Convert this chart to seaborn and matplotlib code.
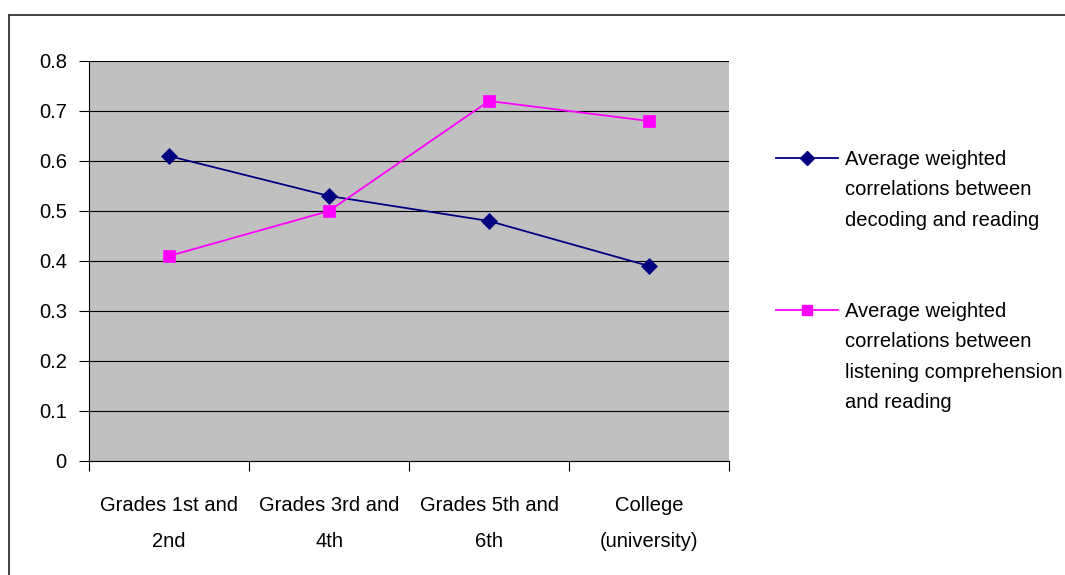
import matplotlib
matplotlib.use("Agg")
import matplotlib.pyplot as plt
import seaborn as sns
import pandas as pd
from matplotlib.lines import Line2D
from matplotlib.ticker import FixedLocator, FixedFormatter, NullFormatter

categories = ["Grades 1st and\n2nd", "Grades 3rd and\n4th", "Grades 5th and\n6th", "College\n(university)"]
decoding = [0.61, 0.53, 0.48, 0.39]
listening = [0.41, 0.50, 0.72, 0.68]
series_names = [
    "Average weighted\ncorrelations between\ndecoding and reading",
    "Average weighted\ncorrelations between\nlistening comprehension\nand reading",
]
y_ticks = [0, 0.1, 0.2, 0.3, 0.4, 0.5, 0.6, 0.7, 0.8]
y_tick_labels = ["0", "0.1", "0.2", "0.3", "0.4", "0.5", "0.6", "0.7", "0.8"]

colors = {series_names[0]: "#000080", series_names[1]: "#FF00FF"}
markers = {series_names[0]: "D", series_names[1]: "s"}

df = pd.DataFrame({
    "stage": categories * 2,
    "value": decoding + listening,
    "series": [series_names[0]] * len(decoding) + [series_names[1]] * len(listening),
})

plt.rcParams["font.family"] = ["Liberation Sans", "DejaVu Sans"]
FS = 14.5

fig = plt.figure(figsize=(10.65, 5.75), dpi=100)
W, H = 1065, 575
ax = fig.add_axes([89 / W, 1 - 461 / H, 640 / W, 400 / H])
ax.set_facecolor("#C0C0C0")

sns.lineplot(data=df, x="stage", y="value", hue="series", style="series",
             markers=markers, dashes=False, palette=colors, sort=False,
             linewidth=1.3, markersize=8, legend=False, ax=ax)
for ln in ax.lines:
    ln.set_markeredgecolor(ln.get_color())
    ln.set_markerfacecolor(ln.get_color())
    ln.set_markeredgewidth(0.5)
    ln.set_zorder(3)

ax.set_xlim(-0.5, len(categories) - 0.5)
ax.set_ylim(0, 0.8)
ax.xaxis.set_major_locator(FixedLocator([i - 0.5 for i in range(len(categories) + 1)]))
ax.xaxis.set_major_formatter(NullFormatter())
ax.xaxis.set_minor_locator(FixedLocator(list(range(len(categories)))))
ax.xaxis.set_minor_formatter(FixedFormatter(categories))
ax.tick_params(axis="x", which="major", length=7, width=0.8, color="black", direction="out")
ax.tick_params(axis="x", which="minor", length=0, pad=25, labelsize=FS)
for t in ax.xaxis.get_minor_ticks():
    t.label1.set_linespacing(2.12)
    t.label1.set_verticalalignment("top")

ax.set_yticks(y_ticks)
ax.set_yticklabels(y_tick_labels)
ax.tick_params(axis="y", length=7, width=0.8, color="black", direction="out", pad=9, labelsize=FS)
ax.yaxis.grid(True, color="black", linewidth=0.8)
ax.set_axisbelow(True)
ax.set_xlabel("")
ax.set_ylabel("")
for s in ["top", "right"]:
    ax.spines[s].set_visible(False)
for s in ["left", "bottom"]:
    ax.spines[s].set_color("black")
    ax.spines[s].set_linewidth(0.8)

# outer chart frame
fig.add_artist(Line2D([9 / W, 1.01], [1 - 15 / H, 1 - 15 / H], transform=fig.transFigure, color="#333333", linewidth=1.3))
fig.add_artist(Line2D([9 / W, 9 / W], [1 - 15 / H, -0.01], transform=fig.transFigure, color="#333333", linewidth=1.3))

# legend
legend_y = [158, 310]
for name, yy in zip(series_names, legend_y):
    fig.add_artist(Line2D([776 / W, 838 / W], [1 - yy / H] * 2, transform=fig.transFigure,
                          color=colors[name], linewidth=1.3))
    fig.add_artist(Line2D([807 / W], [1 - yy / H], transform=fig.transFigure, color=colors[name],
                          marker=markers[name], markersize=7.5 if markers[name] == "s" else 7,
                          markeredgecolor=colors[name], linestyle="none"))
    fig.text(845 / W, 1 - (yy - 8) / H, name, fontsize=FS, va="top", ha="left", linespacing=1.75)

fig.savefig("out.png", dpi=100)
